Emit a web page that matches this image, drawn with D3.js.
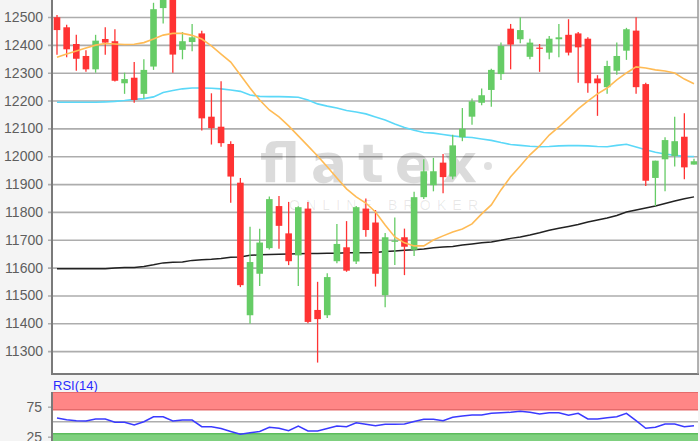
<!DOCTYPE html>
<html><head><meta charset="utf-8">
<script src="https://cdn.jsdelivr.net/npm/d3@7"></script>
<style>html,body{margin:0;padding:0;background:#f4f4f4;}svg{display:block}</style>
</head><body><svg id="c" width="700" height="441"></svg>
<script>
// ---- data ----
const openP  = [12499,12463,12403,12360,12312,12421,12413,12262,12282,12224,12322,12532,12600,12382,12410,12441,12142,12106,12044,11905,11429,11578,11670,11821,11723,11644,11812,11448,11429,11623,11673,11622,11812,11762,11501,11695,11709,11664,11853,11896,11977,11927,12068,12142,12192,12238,12295,12458,12420,12357,12390,12372,12420,12436,12441,12422,12279,12248,12307,12379,12451,12259,11922,11989,12001,12070,11970];
const highP  = [12507,12472,12436,12381,12436,12463,12456,12300,12338,12348,12551,12590,12610,12446,12475,12451,12226,12269,12054,11922,11747,11740,11855,11857,11836,11820,11836,11549,11580,11757,11767,11821,11848,11807,11724,11780,11740,11872,11989,11994,12008,12077,12173,12207,12243,12314,12408,12475,12499,12422,12403,12432,12475,12492,12446,12427,12291,12343,12408,12461,12499,12264,11984,12068,12142,12154,11991];
const lowP   = [12364,12355,12307,12303,12300,12364,12268,12224,12192,12207,12310,12477,12300,12348,12377,12092,12042,12034,11833,11530,11398,11534,11665,11668,11609,11534,11400,11259,11419,11616,11585,11613,11711,11532,11458,11609,11573,11642,11846,11874,11867,11917,12054,12113,12183,12178,12274,12312,12406,12348,12303,12348,12355,12362,12264,12228,12145,12224,12293,12346,12224,11893,11821,11874,11963,11917,11970];
const closeP = [12453,12384,12350,12312,12415,12408,12271,12277,12202,12310,12528,12575,12365,12413,12427,12136,12101,12047,11927,11537,11620,11690,11846,11750,11623,11817,11405,11415,11566,11685,11589,11817,11735,11578,11709,11697,11675,11853,11946,11946,11925,12039,12099,12197,12219,12310,12396,12401,12453,12408,12387,12422,12427,12372,12391,12262,12262,12324,12360,12456,12248,11912,11984,12058,12054,11960,11982];
const maOrange = [12355,12367,12378,12389,12399,12405,12403,12401,12402,12408,12421,12435,12441,12441,12434,12421,12396,12367,12338,12292,12245,12202,12166,12141,12109,12073,12037,12001,11962,11922,11883,11854,11832,11800,11753,11710,11689,11678,11678,11699,11714,11728,11739,11757,11793,11825,11879,11926,11965,12005,12037,12076,12105,12137,12170,12198,12224,12245,12274,12299,12321,12317,12310,12306,12299,12277,12260];
const maCyan = [12194,12194,12194,12194,12194,12195,12197,12200,12204,12207,12213,12229,12236,12242,12245,12245,12244,12242,12238,12233,12220,12215,12214,12214,12213,12212,12202,12188,12180,12173,12164,12159,12152,12141,12130,12116,12103,12093,12085,12083,12078,12073,12069,12067,12062,12057,12049,12042,12039,12036,12034,12035,12037,12038,12038,12037,12035,12034,12039,12043,12033,12023,12014,12008,12003,12000,11999];
const maBlack = [11596,11596,11596,11596,11596,11596,11599,11600,11600,11604,11610,11617,11619,11620,11626,11628,11630,11633,11637,11638,11644,11646,11647,11648,11649,11650,11651,11651,11652,11652,11653,11653,11653,11654,11658,11660,11662,11664,11667,11671,11674,11676,11681,11685,11689,11692,11698,11705,11710,11717,11725,11734,11741,11748,11755,11764,11771,11778,11787,11800,11807,11814,11821,11830,11839,11847,11854];
const rsiVals = [56.2,53.2,51.5,51.2,54.5,54.5,49,49,44.5,50,58.3,58.3,51.2,52.8,52.8,41.7,41.7,38.7,33.7,29,31.7,33.7,40.7,39,35,42.8,34.5,34.5,38.7,42.8,41.7,48.3,45.7,43.3,45.7,45.8,46.2,50.3,54,54,51.7,57.3,59.5,61.2,61.2,64,65,65.7,67.3,65.7,62.8,65,65,60.7,64,54.5,54.5,56.7,58.3,64,51.7,39,40.7,46.2,46.2,41.7,43.3];
const priceTicks = [11300,11400,11500,11600,11700,11800,11900,12000,12100,12200,12300,12400,12500];
const rsiTicks = [75,25];
const rsiTitle = "RSI(14)";
const wmMain = "flatex";
const wmSub = "ONLINE BROKER";

// ---- layout ----
const svg = d3.select("#c");
const L = 52, R = 698, T = 0, B = 374;
const RT = 392, RB = 441;
const n = closeP.length;
const candles = d3.range(n).map(i => ({i, o: openP[i], h: highP[i], l: lowP[i], c: closeP[i]}));

const x = d3.scaleLinear().domain([0, n - 1]).range([57, 694]);
const y = d3.scaleLinear().domain([11218, 12561]).range([B, T]);
const yr = d3.scaleLinear().domain([0, 100]).range([451.7, 391.7]);

svg.append("rect").attr("width", 700).attr("height", 441).attr("fill", "#f4f4f4");

const defs = svg.append("defs");
defs.append("clipPath").attr("id", "cp").append("rect").attr("x", L).attr("y", T).attr("width", R - L).attr("height", B - T);
defs.append("clipPath").attr("id", "cr").append("rect").attr("x", L).attr("y", RT).attr("width", R - L).attr("height", RB - RT);

// main plot background
svg.append("rect").attr("x", L).attr("y", T).attr("width", R - L).attr("height", B - T).attr("fill", "#fff");

// grid + y labels
const yAxis = d3.axisLeft(y).tickValues(priceTicks).tickSize(-(R - L + 4)).tickPadding(9).tickFormat(d3.format("d"));
const ga = svg.append("g").attr("transform", `translate(${L - 4},0)`).call(yAxis);
ga.select(".domain").remove();
ga.selectAll(".tick line").attr("stroke", "#adadad").attr("stroke-width", 1.6);
ga.selectAll(".tick text").attr("fill", "#5e5e5e").attr("font-family", "Liberation Sans, Arial, sans-serif").attr("font-size", 14).attr("x", -5);

// watermark
const wm = svg.append("g").attr("clip-path", "url(#cp)");
wm.append("text").attr("x", 260).attr("y", 182).text(wmMain)
  .attr("font-family", "DejaVu Sans, sans-serif").attr("font-weight", "bold").attr("font-size", 54)
  .attr("textLength", 217).attr("lengthAdjust", "spacing").attr("fill", "#000").attr("fill-opacity", 0.14);
wm.append("circle").attr("cx", 488).attr("cy", 166).attr("r", 4).attr("fill", "#000").attr("fill-opacity", 0.12);
wm.append("text").attr("x", 289).attr("y", 210).text(wmSub)
  .attr("font-family", "Liberation Sans, Arial, sans-serif").attr("font-size", 14)
  .attr("textLength", 189).attr("lengthAdjust", "spacing").attr("fill", "#000").attr("fill-opacity", 0.09);

const gp = svg.append("g").attr("clip-path", "url(#cp)");

// moving averages
const line = arr => d3.line().x((d, i) => x(i)).y(d => y(d))(arr);
gp.append("path").attr("d", line(maBlack)).attr("fill", "none").attr("stroke", "#222").attr("stroke-width", 1.5);
gp.append("path").attr("d", line(maCyan)).attr("fill", "none").attr("stroke", "#5bd8f8").attr("stroke-width", 1.6);

// candles
const bw = 6.6;
const cg = gp.selectAll("g.cd").data(candles).join("g").attr("class", "cd");
const col = d => d.c >= d.o ? "#66cc66" : "#ff3333";
cg.append("line").attr("x1", d => x(d.i)).attr("x2", d => x(d.i))
  .attr("y1", d => y(d.h)).attr("y2", d => y(d.l)).attr("stroke", col).attr("stroke-width", 1.3);
cg.append("rect").attr("x", d => x(d.i) - bw / 2).attr("width", bw)
  .attr("y", d => y(Math.max(d.o, d.c)))
  .attr("height", d => Math.max(1.2, Math.abs(y(d.o) - y(d.c))))
  .attr("fill", col);

gp.append("path").attr("d", line(maOrange)).attr("fill", "none").attr("stroke", "#ffbb55").attr("stroke-width", 1.6);

// frame
svg.append("line").attr("x1", L).attr("x2", L).attr("y1", T).attr("y2", B + 1).attr("stroke", "#7a7a7a").attr("stroke-width", 2);
svg.append("line").attr("x1", L).attr("x2", R + 1).attr("y1", B).attr("y2", B).attr("stroke", "#7a7a7a").attr("stroke-width", 2);
svg.append("line").attr("x1", R).attr("x2", R).attr("y1", T).attr("y2", B).attr("stroke", "#9a9a9a").attr("stroke-width", 1.5);

// RSI panel
svg.append("text").attr("x", 53).attr("y", 390).text(rsiTitle)
  .attr("font-family", "Liberation Sans, Arial, sans-serif").attr("font-size", 13).attr("fill", "#2a2aff");
svg.append("rect").attr("x", L).attr("y", RT).attr("width", R - L).attr("height", RB - RT).attr("fill", "#fff");
const gr = svg.append("g").attr("clip-path", "url(#cr)");
gr.append("rect").attr("x", L).attr("width", R - L).attr("y", yr(100)).attr("height", yr(70) - yr(100)).attr("fill", "#ff8686");
gr.append("line").attr("x1", L).attr("x2", R).attr("y1", yr(70)).attr("y2", yr(70)).attr("stroke", "#e56a6a").attr("stroke-width", 1.4);
gr.append("line").attr("x1", L).attr("x2", R).attr("y1", yr(100) + 0.7).attr("y2", yr(100) + 0.7).attr("stroke", "#e56a6a").attr("stroke-width", 1.4);
gr.append("rect").attr("x", L).attr("width", R - L).attr("y", yr(30)).attr("height", yr(0) - yr(30)).attr("fill", "#7fd07f");
gr.append("line").attr("x1", L).attr("x2", R).attr("y1", yr(30)).attr("y2", yr(30)).attr("stroke", "#5cbc5c").attr("stroke-width", 1.4);
gr.append("line").attr("x1", L).attr("x2", R).attr("y1", yr(50)).attr("y2", yr(50)).attr("stroke", "#adadad").attr("stroke-width", 1.5);
gr.append("path").attr("d", d3.line().x((d, i) => x(i)).y(d => yr(d))(rsiVals)).attr("fill", "none").attr("stroke", "#3a3aff").attr("stroke-width", 1.5);

const ra = svg.append("g").attr("transform", `translate(${L},0)`).call(d3.axisLeft(yr).tickValues(rsiTicks).tickSize(4).tickPadding(6));
ra.select(".domain").remove();
ra.selectAll(".tick line").attr("stroke", "#adadad").attr("stroke-width", 1.5);
ra.selectAll(".tick text").attr("fill", "#5e5e5e").attr("font-family", "Liberation Sans, Arial, sans-serif").attr("font-size", 14);
svg.append("line").attr("x1", L).attr("x2", L).attr("y1", RT).attr("y2", RB).attr("stroke", "#7a7a7a").attr("stroke-width", 2);
</script></body></html>
